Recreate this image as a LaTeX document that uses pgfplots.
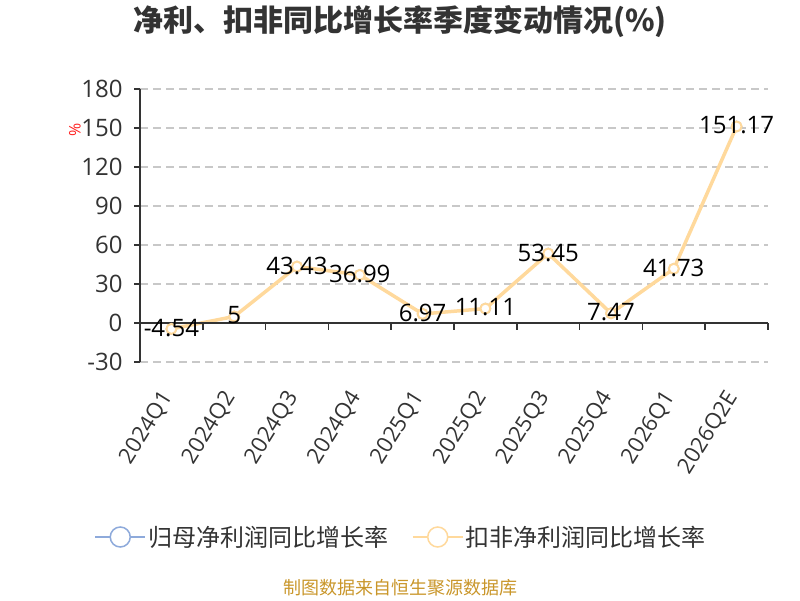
\documentclass[border=0pt]{standalone}
\usepackage{pgfplots}
\usepackage{pgfplotstable}
\pgfplotsset{compat=1.18}
\usepackage{fontspec}
\setmainfont{Open Sans}
\newfontfamily\cjk{Noto Sans CJK SC}
\definecolor{axisgray}{HTML}{333333}
\definecolor{gridgray}{HTML}{C8C8C8}
\definecolor{orangel}{HTML}{FFD99C}
\definecolor{bluel}{HTML}{8EAADB}
\definecolor{srcgold}{HTML}{C9962A}
\definecolor{labred}{HTML}{FF2020}

\pgfplotstableread{
x y lab
0 -4.54 -4.54
1 5 5
2 43.43 43.43
3 36.99 36.99
4 6.97 6.97
5 11.11 11.11
6 53.45 53.45
7 7.47 7.47
8 41.73 41.73
9 151.17 151.17
}\dataKF

\pgfplotstableread{
x y
0 -4.54
1 5
2 43.43
3 36.99
4 6.97
5 11.11
6 53.45
7 7.47
8 41.73
9 151.17
}\dataGM

\begin{document}
\begin{tikzpicture}[x=1pt,y=1pt]
\path[use as bounding box] (0,0) rectangle (800,600);
\node[font=\cjk\fontsize{30}{34}\selectfont\bfseries, text=axisgray] at (400,578) {净利、扣非同比增长率季度变动情况(\%)};
\begin{axis}[
  at={(140pt,238pt)}, anchor=south west,
  scale only axis, width=628pt, height=273pt,
  xmin=-0.5, xmax=9.5, ymin=-30, ymax=180,
  ytick={-30,0,30,60,90,120,150,180},
  xtick={0,...,9},
  xticklabels={2024Q1,2024Q2,2024Q3,2024Q4,2025Q1,2025Q2,2025Q3,2025Q4,2026Q1,2026Q2E},
  axis y line*=left,
  axis x line*=bottom,
  x axis line style={draw=none},
  major x tick style={draw=none},
  y axis line style={axisgray, line width=1.5pt},
  major y tick style={axisgray, line width=1.5pt},
  tick align=outside,
  major tick length=6pt,
  ymajorgrids,
  grid style={gridgray, line width=1.2pt, dash pattern=on 8pt off 5pt},
  /pgf/number format/assume math mode=true,
  yticklabel style={font=\fontsize{24}{28}\selectfont, text=axisgray, xshift=-8pt},
  xticklabel style={font=\fontsize{22}{26}\selectfont, text=axisgray, xshift=-2pt, yshift=-23pt, rotate=58, anchor=east},
  legend style={at={(0.4156,-0.641)}, anchor=center, draw=none, fill=none,
    font=\cjk\fontsize{24}{28}\selectfont, text=axisgray,
    legend columns=2, /tikz/every even column/.append style={column sep=22pt}},
  clip=false,
]
\addplot[bluel, line width=1.5pt, mark=*, mark size=5pt, mark options={fill=white, draw=bluel, line width=1.5pt},
  legend image code/.code={\draw[bluel, line width=1.5pt] (0pt,0pt) -- (50pt,0pt); \draw[bluel, line width=1.5pt, fill=white] (25pt,0pt) circle (10pt);}
] table[x=x, y=y] {\dataGM};
\addlegendentry{归母净利润同比增长率}
\addplot[orangel, line width=3.5pt, mark=*, mark size=5pt, mark options={fill=white, draw=orangel, line width=2pt},
  legend image code/.code={\draw[orangel, line width=1.5pt] (0pt,0pt) -- (50pt,0pt); \draw[orangel, line width=1.5pt, fill=white] (25pt,0pt) circle (10pt);},
  point meta=explicit symbolic,
  nodes near coords,
  every node near coord/.append style={anchor=center, font=\fontsize{24}{28}\selectfont, text=black, yshift=1pt}
] table[x=x, y=y, meta=lab] {\dataKF};
\addlegendentry{扣非净利润同比增长率}
\draw[axisgray, line width=1.5pt] (axis cs:-0.5,0) -- (axis cs:9.5,0);
\pgfplotsinvokeforeach{0.5,1.5,2.5,3.5,4.5,5.5,6.5,7.5,8.5,9.5}{
  \draw[axisgray, line width=1.5pt] (axis cs:#1,0) -- ++(0pt,-7pt);
}
\end{axis}
\node[rotate=90, text=labred, font=\fontsize{16}{18}\selectfont] at (75,470) {\%};
\node[text=srcgold, font=\cjk\fontsize{18}{22}\selectfont] at (400,12) {制图数据来自恒生聚源数据库};
\end{tikzpicture}
\end{document}
